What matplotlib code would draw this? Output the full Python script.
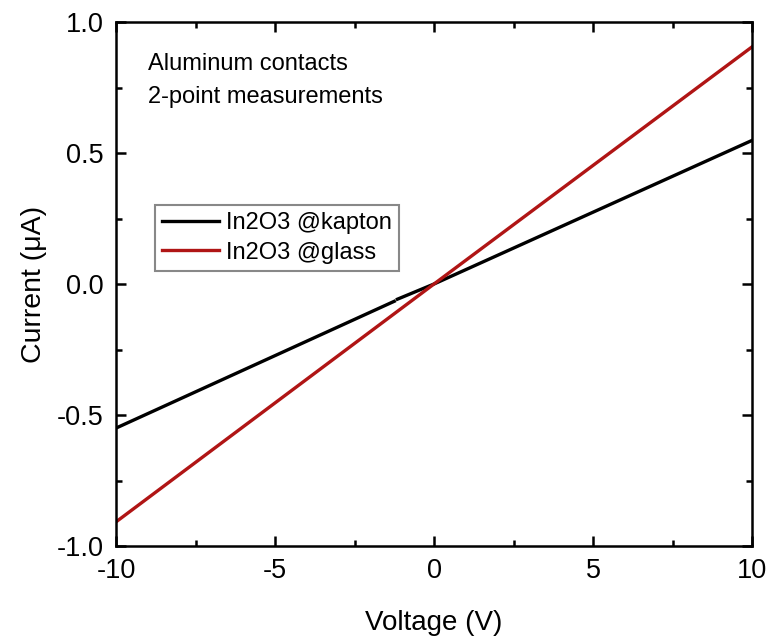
import numpy as np
import matplotlib
matplotlib.use("Agg")
import matplotlib.pyplot as plt
from matplotlib.ticker import MultipleLocator, FuncFormatter

plt.rcParams['font.family'] = ['Liberation Sans', 'DejaVu Sans']

# data
v_kapton = [-10, -1.25, np.nan, -1.15, 0, 10]
i_kapton = [-0.55, -0.066, np.nan, -0.058, 0.0, 0.548]
v_glass = [-10, 0, 10]
i_glass = [-0.908, 0.0, 0.905]
labels = ["In2O3 @kapton", "In2O3 @glass"]

fig = plt.figure(figsize=(7.69, 6.44), dpi=100)
ax = fig.add_axes([116/769, 1-546/644, (752-116)/769, (546-22)/644])

ax.plot(v_kapton, i_kapton, color='black', lw=2.4, label=labels[0])
ax.plot(v_glass, i_glass, color='#b01515', lw=2.4, label=labels[1])

ax.set_xlim(-10, 10)
ax.set_ylim(-1.0, 1.0)
ax.xaxis.set_major_locator(MultipleLocator(5))
ax.xaxis.set_minor_locator(MultipleLocator(2.5))
ax.yaxis.set_major_locator(MultipleLocator(0.5))
ax.yaxis.set_minor_locator(MultipleLocator(0.25))
ax.tick_params(which='both', direction='in', top=True, right=True, labelsize=19.5, width=1.8)
ax.tick_params(which='major', length=7, pad=9)
ax.tick_params(which='minor', length=4)
for s in ax.spines.values():
    s.set_linewidth(1.8)

ax.xaxis.set_major_formatter(FuncFormatter(lambda x, p: f"{x:g}"))
ax.yaxis.set_major_formatter(FuncFormatter(lambda y, p: f"{y:.1f}"))

ax.set_xlabel("Voltage (V)", fontsize=20, labelpad=18)
ax.set_ylabel("Current (\u03bcA)", fontsize=20.5, labelpad=7)

ax.text(0.05, 0.94, "Aluminum contacts\n2-point measurements", transform=ax.transAxes,
        fontsize=17, va='top', ha='left', linespacing=1.65)

leg = ax.legend(loc='upper left', bbox_to_anchor=(0.061, 0.65), fontsize=17, fancybox=False,
                edgecolor='#888888', framealpha=1, handlelength=2.4, borderpad=0.3,
                labelspacing=0.3, handletextpad=0.3, borderaxespad=0)
leg.get_frame().set_linewidth(1.5)

fig.savefig("out.png", dpi=100)
